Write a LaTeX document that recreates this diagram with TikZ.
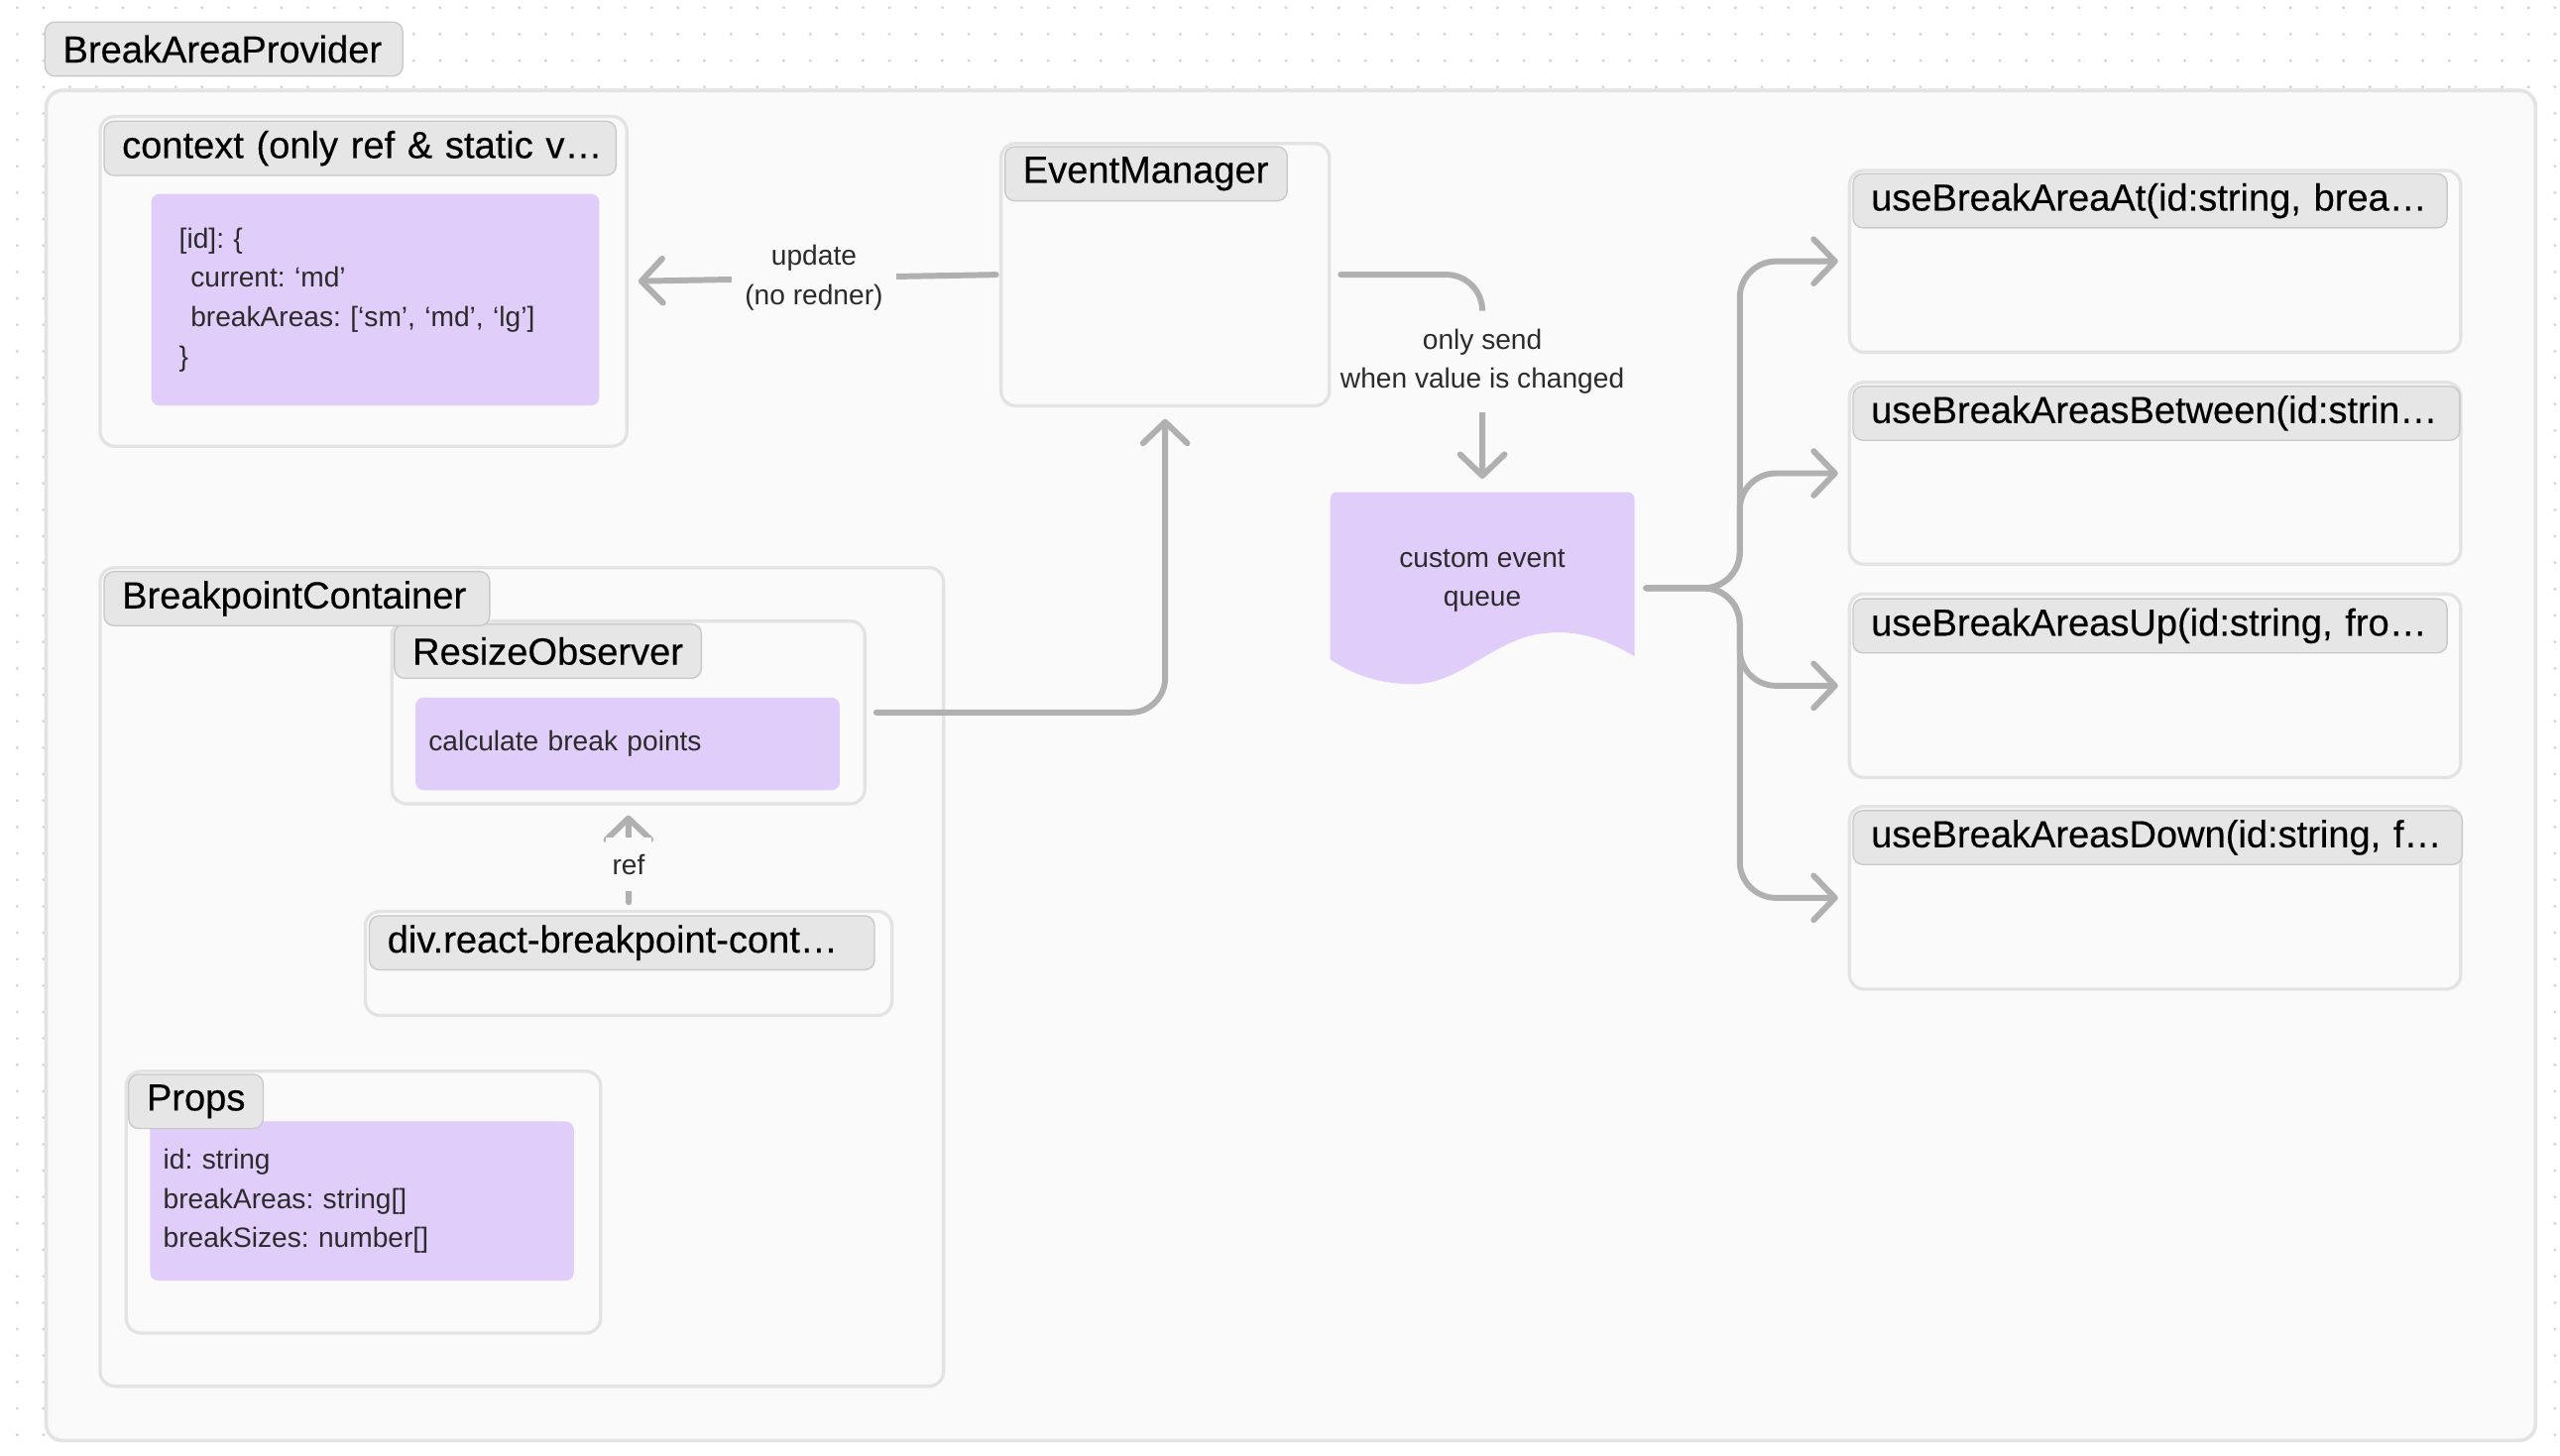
\documentclass[tikz,border=0pt]{standalone}
\usepackage{fontspec}
\setmainfont{Liberation Sans}
\newfontfamily\ttlfam[FakeBold=0.35]{Liberation Sans}
\usetikzlibrary{arrows.meta}
\definecolor{dotc}{HTML}{D4D4D4}
\definecolor{boxfill}{HTML}{FAFAFA}
\definecolor{boxline}{HTML}{E3E3E3}
\definecolor{lblfill}{HTML}{E6E6E6}
\definecolor{lblline}{HTML}{C8C8C8}
\definecolor{purp}{HTML}{E0CDFA}
\definecolor{conncol}{HTML}{B0B0B0}
\definecolor{txtc}{HTML}{2B2B2B}
\newcommand\ttlfnt{\ttlfam\fontsize{23}{28}\selectfont}
\newcommand\smlfnt{\fontsize{17}{24}\selectfont}
\frenchspacing
\begin{document}
\begin{tikzpicture}[x=1pt,y=-1pt,
  dotline/.style={draw=dotc, line width=2pt, line cap=round, dash pattern=on 0pt off 16.11pt},
  cbox/.style={draw=boxline, line width=2pt, fill=boxfill, rounded corners=9pt, inner sep=0pt, anchor=north west},
  ttl/.style={draw=lblline, line width=0.8pt, fill=lblfill, rounded corners=6pt, anchor=north west,
     minimum height=33pt, inner xsep=11pt, inner ysep=0pt, font=\ttlfnt, text=black, align=left, text width=#1},
  pbox/.style={fill=purp, rounded corners=5pt, anchor=north west, font=\smlfnt, text=txtc, align=left, inner ysep=0pt},
  lbl/.style={fill=boxfill, font=\smlfnt, text=txtc, align=center},
  conn/.style={draw=conncol, line width=3.6pt, line cap=round, line join=round,
     -{Straight Barb[round,length=13pt,width=27pt]}}
]
\useasboundingbox (0,0) rectangle (1560,887);
\fill[white] (0,0) rectangle (1560,887);
\foreach \j in {0,...,54}
  \draw[dotline] (10.4,{4.7+16.11*\j}) -- (1560,{4.7+16.11*\j});

% outer provider
\node[cbox, line width=2.2pt, rounded corners=10pt, minimum width=1517pt, minimum height=823pt] (main) at (27,54) {};
\node[ttl=196pt] (mainT) at (27,13) {\mbox{BreakAreaProvider}};

% context
\node[cbox, minimum width=321pt, minimum height=201pt] (ctx) at (60,70) {};
\node[ttl=290pt] (ctxT) at (63,73.5) {\mbox{context (only ref \& static v…}};
\node[pbox, text width=239pt, inner xsep=17pt, minimum height=129pt] (ctxP) at (92,118)
  {[id]: \{\\\hspace*{7pt}current: ‘md’\\\hspace*{7pt}breakAreas: [‘sm’, ‘md’, ‘lg’]\\\}};

% event manager
\node[cbox, minimum width=200pt, minimum height=160pt] (em) at (609,86.4) {};
\node[ttl=150pt] (emT) at (612,89) {\mbox{EventManager}};

% hooks
\node[cbox, minimum width=372.5pt, minimum height=110.8pt] (h1) at (1126,102.9) {};
\node[ttl=340pt] (h1T) at (1128.8,105.5) {\mbox{useBreakAreaAt(id:string, brea…}};
\node[cbox, minimum width=372.5pt, minimum height=111pt] (h2) at (1126,232) {};
\node[ttl=347.7pt] (h2T) at (1128.8,235) {\mbox{useBreakAreasBetween(id:strin…}};
\node[cbox, minimum width=372.5pt, minimum height=112pt] (h3) at (1126,361) {};
\node[ttl=340pt] (h3T) at (1128.8,364.6) {\mbox{useBreakAreasUp(id:string, fro…}};
\node[cbox, minimum width=372.5pt, minimum height=111.4pt] (h4) at (1126,490.6) {};
\node[ttl=349.2pt] (h4T) at (1128.8,493.6) {\mbox{useBreakAreasDown(id:string, f…}};

% custom event queue (document shape)
\begin{scope}[shift={(810.6,300)}]
\fill[purp] (0,102) [rounded corners=4pt] -- (0,0) -- (185.4,0) [sharp corners] -- (185.4,100)
  .. controls (165,88) and (148,84) .. (130.4,86)
  .. controls (100,89) and (80,117) .. (50.4,117)
  .. controls (28,117) and (12,110) .. (0,102) -- cycle;
\end{scope}
\node[font=\smlfnt, text=txtc, align=center, minimum width=185.4pt, minimum height=108pt, inner sep=0pt] (queue) at (903.3,354) {custom event\\queue};

% breakpoint container
\node[cbox, minimum width=514pt, minimum height=499pt] (bc) at (60,345) {};
\node[cbox, minimum width=288.2pt, minimum height=111.4pt] (ro) at (237.8,377.6) {};
\node[ttl=165pt] (roT) at (240,380) {\mbox{ResizeObserver}};
\node[pbox, text width=242.5pt, inner xsep=8pt, minimum height=56.5pt] (calcP) at (253,425) {calculate break points};
\node[ttl=213pt] (bcT) at (63,348) {\mbox{BreakpointContainer}};
\node[cbox, minimum width=321pt, minimum height=63.5pt] (div) at (221.6,554.5) {};
\node[ttl=285.8pt] (divT) at (224.7,557.8) {\mbox{div.react-breakpoint-cont…}};
\node[cbox, minimum width=289.1pt, minimum height=159.6pt] (props) at (75.9,652) {};
\node[pbox, text width=242.2pt, inner xsep=8pt, minimum height=97.1pt] (propsP) at (91.3,683.4)
  {id: string\\breakAreas: string[]\\breakSizes: number[]};
\node[ttl=60pt] (propsT) at (78,654.5) {\mbox{Props}};

% connectors
\draw[conn, shorten <=2pt, shorten >=6pt] (em.west) -- node[lbl, inner xsep=8pt, inner ysep=3pt]{update\\(no redner)} (ctx.east);
\draw[conn, rounded corners=22pt, shorten <=6pt, shorten >=8pt] (em.east) -| node[lbl, pos=0.7, inner ysep=11pt, inner xsep=4pt]{only send\\when value is changed} (queue.north);
\draw[conn, rounded corners=21pt, shorten <=6pt, shorten >=7pt] (ro.east) -| (em.south);
\draw[conn, shorten <=4.5pt, shorten >=6pt] (div.north) -- node[lbl, pos=0.435, inner ysep=10pt, inner xsep=4pt]{ref} (ro.south);
\foreach \h in {h1,h2,h3,h4}
  \draw[conn, rounded corners=22pt, shorten <=7pt, shorten >=6pt] ([yshift=-4.5pt]queue.east) -- ++(64,0) |- (\h.west);
\end{tikzpicture}
\end{document}
